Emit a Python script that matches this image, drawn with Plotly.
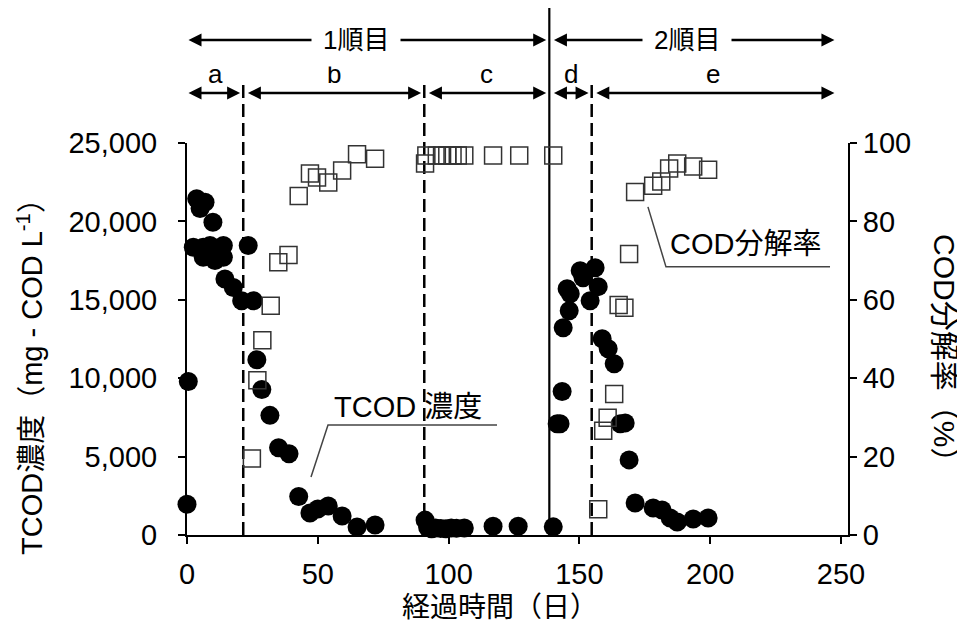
import plotly.graph_objects as go

# ---------------- data ----------------
tcod_day = [0, 0.5, 2.4, 3.7, 5.0, 6.2, 6.2, 6.9, 8.8, 9.9, 10.7, 13.9, 13.9, 14.5, 17.7, 20.9,
            23.4, 25.4, 26.7, 28.6, 31.7, 35.0, 39.0, 42.7, 47.0, 50.0, 54.0, 59.3, 65.0, 71.9,
            91.0, 92.0, 93.5, 95.0, 97.0, 99.0, 101.0, 103.0, 106.0, 117.0, 126.6, 140.0,
            141.5, 142.6, 143.4, 143.8, 145.3, 146.1, 146.5, 150.3, 151.4, 154.1, 156.0, 157.2,
            158.7, 161.0, 163.3, 165.6, 167.5, 169.0, 171.3, 178.2, 181.6, 184.7, 187.4, 193.5, 199.2]
tcod_val = [1960, 9790, 18350, 21440, 20820, 18350, 17710, 21220, 18460, 19950, 17500, 18460, 17710, 16330, 15790, 14940,
            18460, 14940, 11180, 9280, 7630, 5570, 5180, 2460, 1400, 1660, 1850, 1210, 510, 640,
            950, 480, 400, 450, 420, 400, 450, 430, 450, 560, 560, 520,
            7090, 7090, 9150, 13220, 15710, 14300, 15390, 16860, 16410, 14940, 17050, 15840,
            12520, 11880, 10920, 7090, 7150, 4790, 2040, 1720, 1600, 1090, 830, 1020, 1090]

rate_day = [24.8, 26.9, 28.8, 32.0, 34.9, 38.8, 42.7, 47.0, 49.7, 54.0, 59.3, 65.0, 71.9,
            91.0, 91.5, 95.5, 97.5, 99.5, 101.5, 103.5, 106.0, 117.0, 127.0, 140.0,
            157.2, 159.1, 160.8, 163.3, 165.0, 167.2, 169.0, 171.3, 178.2, 181.3, 184.3, 187.4, 193.5, 199.2]
rate_val = [19.5, 39.5, 49.7, 58.5, 69.6, 71.4, 86.5, 92.2, 91.2, 89.9, 93.0, 97.1, 96.0,
            94.8, 96.8, 96.8, 96.8, 96.8, 96.8, 96.8, 96.8, 96.8, 96.8, 96.8,
            6.6, 26.6, 29.9, 36.0, 58.7, 58.0, 71.7, 87.5, 89.1, 90.2, 93.5, 94.8, 94.0, 93.2]

phase_bounds = [0, 21.5, 90.7, 138.5, 154.7, 247.5]
phase_labels = ["a", "b", "c", "d", "e"]
run_bounds = [0, 138.5, 247.5]
run_labels = ["1順目", "2順目"]
run_label_days = [64.5, 191.0]

x_ticks = [0, 50, 100, 150, 200, 250]
y_ticks = [0, 5000, 10000, 15000, 20000, 25000]
y2_ticks = [0, 20, 40, 60, 80, 100]

# ---------------- layout geometry (screen pixels) ----------------
FONT = "Liberation Sans, Arial, Noto Sans CJK JP"
W, H = 965, 628
OFF = 8                      # page body margin
PX_L, PX_R, PX_T, PX_B = 187, 848, 143, 535   # plot area on screen
L = PX_L - OFF
T = PX_T - OFF
R = W - (PX_R - OFF)
B = H - (PX_B - OFF)
PW, PH = PX_R - PX_L, PX_B - PX_T


def pxx(x):
    return (x - PX_L) / PW


def pxy(y):
    return (PX_B - y) / PH


fig = go.Figure()
fig.add_trace(go.Scatter(x=rate_day, y=rate_val, yaxis="y2", mode="markers",
                         marker=dict(symbol="square-open", size=17, color="#333333",
                                     line=dict(width=1.5, color="#333333")),
                         cliponaxis=False, showlegend=False))
fig.add_trace(go.Scatter(x=tcod_day, y=tcod_val, mode="markers",
                         marker=dict(symbol="circle", size=19, color="black"),
                         cliponaxis=False, showlegend=False))

axis_common = dict(showline=True, linecolor="black", linewidth=2, ticks="outside",
                   ticklen=7, tickwidth=2, tickcolor="black", showgrid=False, zeroline=False,
                   automargin=False,
                   tickfont=dict(family=FONT, size=29, color="black"))

fig.update_layout(
    width=W, height=H, margin=dict(l=L, r=R, t=T, b=B, pad=0, autoexpand=False),
    paper_bgcolor="white", plot_bgcolor="white",
    font=dict(family=FONT, color="black"),
    xaxis=dict(range=[0, 250 * PW / 654], tickvals=x_ticks, ticklabelstandoff=5, **axis_common),
    yaxis=dict(range=[0, 25000], tickvals=y_ticks, tickformat=",", ticklabelstandoff=15, **axis_common),
    yaxis2=dict(range=[0, 100], tickvals=y2_ticks, overlaying="y", side="right",
                ticklabelstandoff=0, **axis_common),
)

# vertical phase lines
dashed_top = pxy(83)
solid_top = pxy(8)
for b in phase_bounds[1:-1]:
    is_run = b == run_bounds[1]
    fig.add_shape(type="line", xref="x", yref="paper", x0=b, x1=b, y0=0,
                  y1=solid_top if is_run else dashed_top, layer="below",
                  line=dict(color="black", width=2.2 if is_run else 2.5,
                            dash="solid" if is_run else "13px,6px"))

ROW1, ROW2, ROW2_LBL = pxy(40), pxy(93), pxy(74)
GAP = 1.2
arrow_style = dict(showarrow=True, arrowside="end+start", arrowhead=2, startarrowhead=2,
                   arrowsize=1.0, startarrowsize=1.0, arrowwidth=2.6, arrowcolor="black",
                   standoff=0, startstandoff=0, text="", xref="x", yref="paper",
                   axref="x", ayref="pixel", ay=0)


def seg(a, b):
    lo = a + (GAP if a > 0 else 0)
    hi = b - (GAP if b < phase_bounds[-1] else 0)
    return lo, hi


for i, lbl in enumerate(phase_labels):
    lo, hi = seg(phase_bounds[i], phase_bounds[i + 1])
    fig.add_annotation(x=hi, y=ROW2, ax=lo, **arrow_style)
    fig.add_annotation(x=(phase_bounds[i] + phase_bounds[i + 1]) / 2, y=ROW2_LBL, xref="x", yref="paper",
                       xanchor="center", yanchor="middle",
                       text=lbl, showarrow=False, font=dict(family=FONT, size=26, color="black"))

for i, lbl in enumerate(run_labels):
    lo, hi = seg(run_bounds[i], run_bounds[i + 1])
    fig.add_annotation(x=hi, y=ROW1, ax=lo, **arrow_style)
    fig.add_annotation(x=run_label_days[i], y=ROW1, xref="x", yref="paper", text=lbl,
                       xanchor="center", yanchor="middle",
                       showarrow=False, bgcolor="white", borderpad=11,
                       font=dict(family=FONT, size=26, color="black"))

# leader lines + callout labels
fig.add_shape(type="path", xref="x", yref="y", path="M 47.4 3700 L 53.9 7015 L 118.5 7015",
              line=dict(color="#444444", width=1.5))
fig.add_annotation(x=84.5, y=7015, xref="x", yref="y", xanchor="center", yanchor="bottom", yshift=0,
                   text="TCOD 濃度", showarrow=False, font=dict(family=FONT, size=29, color="black"))

fig.add_shape(type="path", xref="x", yref="y2", path="M 176.2 83.7 L 183.1 68.4 L 245.8 68.4",
              line=dict(color="#444444", width=1.5))
fig.add_annotation(x=213.5, y=68.4, xref="x", yref="y2", xanchor="center", yanchor="bottom", yshift=5,
                   text="COD分解率", showarrow=False, font=dict(family=FONT, size=29, color="black"))

# axis titles
fig.add_annotation(x=pxx(30), y=pxy(370), xref="paper", yref="paper",
                   text="TCOD濃度（mg - COD L<sup>-1</sup>）", textangle=-90, showarrow=False,
                   font=dict(family=FONT, size=29, color="black"), yanchor="middle", xanchor="center")
fig.add_annotation(x=pxx(945), y=pxy(355), xref="paper", yref="paper",
                   text="COD分解率（%）", textangle=90, showarrow=False,
                   font=dict(family=FONT, size=30, color="black"), yanchor="middle", xanchor="center")
fig.add_annotation(x=pxx(500), y=pxy(607), xref="paper", yref="paper",
                   text="経過時間（日）", showarrow=False,
                   font=dict(family=FONT, size=28, color="black"), yanchor="middle", xanchor="center")

fig.write_html("out.html")
